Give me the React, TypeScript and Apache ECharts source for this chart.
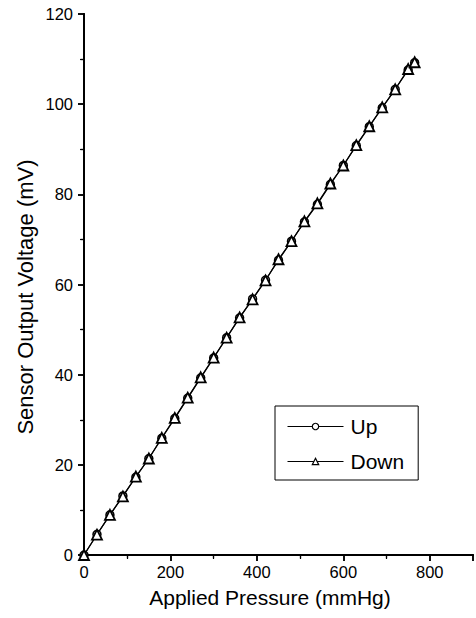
import React, { useEffect, useRef } from "react";
import * as echarts from "echarts";

const pressure = [0, 30, 60, 90, 120, 150, 180, 210, 240, 270, 300, 330, 360, 390, 420, 450, 480, 510, 540, 570, 600, 630, 660, 690, 720, 750, 765];
const upVoltage = [0, 4.6, 8.9, 13.1, 17.3, 21.4, 25.9, 30.3, 34.8, 39.3, 43.7, 48.2, 52.6, 56.8, 61.0, 65.4, 69.6, 73.9, 77.8, 82.2, 86.4, 90.8, 95.0, 99.2, 103.3, 107.6, 109.2];
const downVoltage = [0, 4.5, 8.9, 13.0, 17.4, 21.4, 26.0, 30.4, 34.9, 39.4, 43.8, 48.2, 52.7, 56.7, 60.9, 65.6, 69.6, 74.0, 78.0, 82.4, 86.4, 90.9, 95.1, 99.3, 103.3, 107.8, 109.3];
const xTicks = { min: 0, max: 900, interval: 200 };
const yTicks = { min: 0, max: 120, interval: 20 };
const xTitle = "Applied Pressure (mmHg)";
const yTitle = "Sensor Output Voltage (mV)";

const FONT = "Arial, 'Liberation Sans', Helvetica, sans-serif";

export default function App() {
  const ref = useRef<HTMLDivElement>(null);
  useEffect(() => {
    if (!ref.current) return;
    const chart = echarts.init(ref.current, undefined, { renderer: "svg" });
    const axisLine = { show: true, lineStyle: { color: "#000", width: 2 } };
    const baseX = {
      type: "value" as const,
      min: xTicks.min,
      max: xTicks.max,
      interval: xTicks.interval,
      axisLine,
      splitLine: { show: false },
    };
    const baseY = {
      type: "value" as const,
      min: yTicks.min,
      max: yTicks.max,
      interval: yTicks.interval,
      axisLine,
      splitLine: { show: false },
    };
    chart.setOption({
      animation: false,
      backgroundColor: "#fff",
      grid: { left: 84, right: 3, top: 14, bottom: 63, containLabel: false },
      graphic: [
        {
          type: "text",
          x: 25,
          y: 297,
          rotation: Math.PI / 2,
          style: {
            text: yTitle,
            fontSize: 22,
            fontFamily: FONT,
            fill: "#000",
            align: "center",
            verticalAlign: "middle",
          },
        },
      ],
      xAxis: [
        {
          ...baseX,
          position: "bottom",
          name: xTitle,
          nameLocation: "middle",
          nameGap: 32,
          nameTextStyle: { fontSize: 21, color: "#000", fontFamily: FONT, padding: [0, 17, 0, 0] },
          axisTick: { show: true, inside: false, length: 6, lineStyle: { color: "#000", width: 1.5 } },
          minorTick: { show: true, splitNumber: 2, length: 3, lineStyle: { color: "#000", width: 1.2 } },
          axisLabel: { fontSize: 16.5, color: "#000", fontFamily: FONT, margin: 8, showMaxLabel: false },
        },
        {
          ...baseX,
          position: "top",
          axisTick: { show: true, inside: true, length: 6, lineStyle: { color: "#000", width: 1.5 } },
          minorTick: { show: true, splitNumber: 2, length: 4, lineStyle: { color: "#000", width: 1.2 } },
          axisLabel: { show: false },
        },
      ],
      yAxis: [
        {
          ...baseY,
          position: "left",
          axisTick: { show: true, inside: false, length: 6, lineStyle: { color: "#000", width: 1.5 } },
          minorTick: { show: true, splitNumber: 2, length: 3, lineStyle: { color: "#000", width: 1.2 } },
          axisLabel: { fontSize: 16.5, color: "#000", fontFamily: FONT, margin: 11 },
        },
        {
          ...baseY,
          position: "right",
          axisTick: { show: true, inside: true, length: 6, lineStyle: { color: "#000", width: 1.5 } },
          minorTick: { show: true, splitNumber: 2, length: 4, lineStyle: { color: "#000", width: 1.2 } },
          axisLabel: { show: false },
        },
      ],
      legend: {
        orient: "vertical",
        left: 275,
        top: 406,
        data: ["Up", "Down"],
        padding: [10, 14, 8, 12],
        itemGap: 14,
        itemWidth: 56,
        itemHeight: 8,
        borderColor: "#000",
        borderWidth: 1,
        borderRadius: 0,
        backgroundColor: "#fff",
        lineStyle: { width: 1 },
        itemStyle: { borderWidth: 1.2 },
        textStyle: { fontSize: 21, color: "#000", fontFamily: FONT, padding: [0, 0, 0, 2] },
      },
      series: [
        {
          name: "Up",
          type: "line",
          xAxisIndex: 0,
          yAxisIndex: 0,
          data: pressure.map((p, i) => [p, upVoltage[i]]),
          symbol: "circle",
          symbolSize: 8,
          showAllSymbol: true,
          lineStyle: { color: "#000", width: 1.2 },
          itemStyle: { color: "#fff", borderColor: "#000", borderWidth: 1.5 },
        },
        {
          name: "Down",
          type: "line",
          xAxisIndex: 0,
          yAxisIndex: 0,
          data: pressure.map((p, i) => [p, downVoltage[i]]),
          symbol: "triangle",
          symbolSize: 10,
          showAllSymbol: true,
          lineStyle: { color: "#000", width: 1.2 },
          itemStyle: { color: "#fff", borderColor: "#000", borderWidth: 1.8 },
        },
      ],
    });
    return () => chart.dispose();
  }, []);
  return (
    <div
      ref={ref}
      style={{ position: "fixed", left: 0, top: 0, width: 476, height: 618, background: "#fff" }}
    />
  );
}
